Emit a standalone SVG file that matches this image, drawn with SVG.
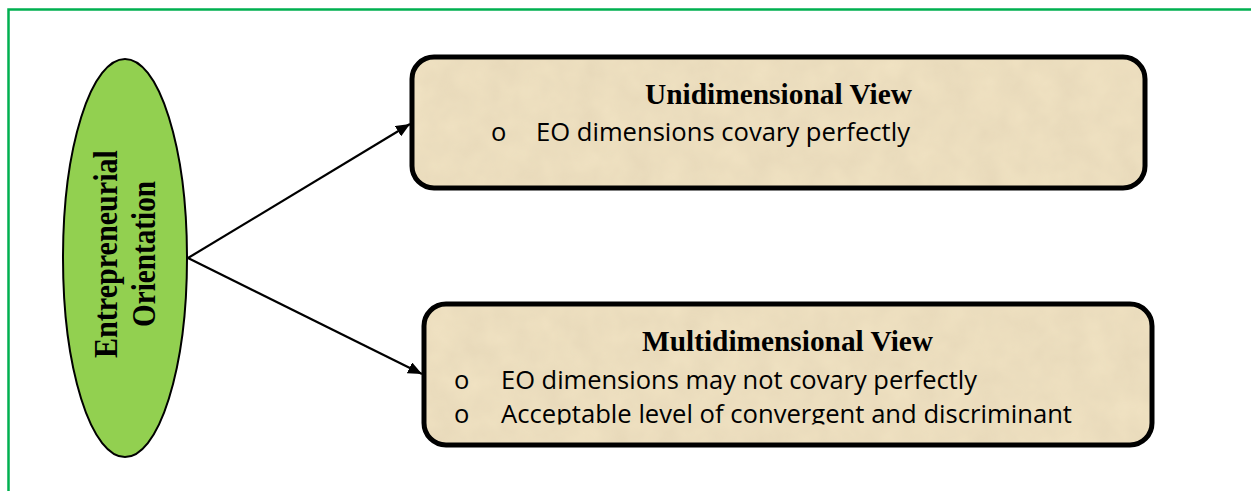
<svg xmlns="http://www.w3.org/2000/svg" width="1251" height="491" viewBox="0 0 1251 491">
<defs>
<style>
.frame{fill:none;stroke:#00B050;stroke-width:2.5}
.box{fill:#F0E2C2;stroke:#000;stroke-width:5}
.conn{stroke:#000;stroke-width:2.2;fill:none}
.title{font-family:"Liberation Serif","Times New Roman",serif;font-weight:bold;font-size:29px;fill:#000}
.body{font-family:"Open Sans","Liberation Sans",sans-serif;font-size:25.5px;fill:#000}
.eo{font-family:"Liberation Serif","Times New Roman",serif;font-weight:bold;font-size:34px;fill:#000}
</style>
<marker id="ah" viewBox="0 0 14 12" refX="14" refY="6" markerWidth="14" markerHeight="12" markerUnits="userSpaceOnUse" orient="auto">
<path d="M0,0 L14,6 L0,12 z" fill="#000"/>
</marker>
<filter id="paper" x="0" y="0" width="100%" height="100%">
<feTurbulence type="fractalNoise" baseFrequency="0.035" numOctaves="3" seed="4"/>
<feColorMatrix type="matrix" values="0 0 0 0 0.6  0 0 0 0 0.5  0 0 0 0 0.35  0 0 0 0.28 -0.02"/>
<feComposite in2="SourceGraphic" operator="in"/>
</filter>
<clipPath id="clip2"><rect x="420" y="300" width="740" height="124.5"/></clipPath>
</defs>
<rect width="1251" height="491" fill="#fff"/>
<path class="frame" d="M1252,9.5 H8.5 V492"/>
<g id="connectors">
<line class="conn" x1="188" y1="258" x2="410" y2="124" marker-end="url(#ah)"/>
<line class="conn" x1="188" y1="258" x2="422" y2="374" marker-end="url(#ah)"/>
</g>
<g id="node-eo">
<ellipse cx="125" cy="258" rx="62" ry="199" fill="#92D050" stroke="#000" stroke-width="2"/>
<text class="eo" transform="translate(117,254) rotate(-90)" text-anchor="middle" textLength="208" lengthAdjust="spacingAndGlyphs">Entrepreneurial</text>
<text class="eo" transform="translate(155,254) rotate(-90)" text-anchor="middle" textLength="146" lengthAdjust="spacingAndGlyphs">Orientation</text>
</g>
<g id="node-uni">
<rect class="box" x="412" y="57" width="733" height="131" rx="22"/>
<rect x="415" y="60" width="727" height="125" rx="19" fill="#fff" filter="url(#paper)"/>
<text class="title" x="645" y="104" textLength="267" lengthAdjust="spacingAndGlyphs">Unidimensional View</text>
<text class="body" x="491" y="141">o</text>
<text class="body" x="536" y="141" textLength="374" lengthAdjust="spacingAndGlyphs">EO dimensions covary perfectly</text>
</g>
<g id="node-multi">
<rect class="box" x="424" y="304" width="728" height="141" rx="22"/>
<rect x="427" y="307" width="722" height="135" rx="19" fill="#fff" filter="url(#paper)"/>
<text class="title" x="642" y="351" textLength="291" lengthAdjust="spacingAndGlyphs">Multidimensional View</text>
<g clip-path="url(#clip2)">
<text class="body" x="454" y="389">o</text>
<text class="body" x="501" y="389" textLength="476" lengthAdjust="spacingAndGlyphs">EO dimensions may not covary perfectly</text>
<text class="body" x="454" y="423">o</text>
<text class="body" x="501" y="423" textLength="571" lengthAdjust="spacingAndGlyphs">Acceptable level of convergent and discriminant</text>
</g>
</g>
</svg>
